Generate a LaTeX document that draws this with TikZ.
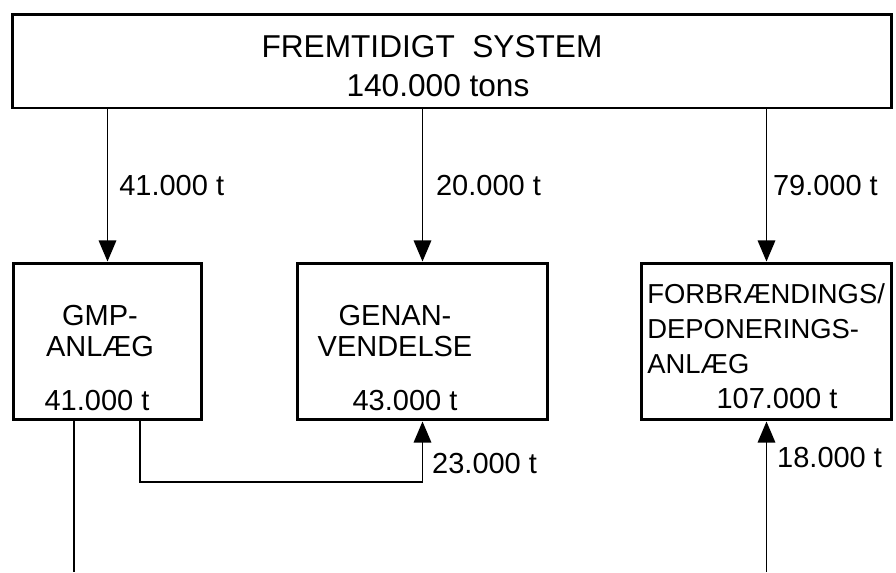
\documentclass[tikz,border=0pt]{standalone}
\usepackage{fontspec}
\setmainfont{Liberation Sans}
\usetikzlibrary{arrows.meta,positioning}

\begin{document}
\begin{tikzpicture}[x=0.02cm,y=-0.02cm,
  box/.style={draw,line width=1.7pt,minimum height=3.14cm,inner sep=0pt},
  flow/.style={line width=0.8pt,-{Triangle[length=12pt,width=10pt]}},
  lab/.style={font=\fontsize{16.5}{18}\selectfont},
  inlab/.style={font=\fontsize{16.5}{18}\selectfont,align=center}]
\useasboundingbox (0,0) rectangle (896,572);
% total
\node[draw,line width=1.7pt,minimum width=17.6cm,minimum height=1.88cm] (sys) at (452,61) {};
\node[font=\fontsize{18}{20}\selectfont] (systitle) at (432,47) {FREMTIDIGT\ \ SYSTEM};
\node[font=\fontsize{18}{20}\selectfont] (systons) at (438,86) {140.000 tons};
% plants
\node[box,minimum width=3.78cm] (gmp) at (107.5,341.5) {};
\node[box,minimum width=5.02cm] (genan) at (422.5,341.5) {};
\node[box,minimum width=5.02cm] (forbr) at (766.5,341.5) {};
\node[inlab] (gmpname) at (100,331) {GMP-\\ANLÆG};
\node[lab] (gmpton) at (97,401) {41.000 t};
\node[inlab] (genanname) at (395,331) {GENAN-\\VENDELSE};
\node[lab] (genanton) at (405,401) {43.000 t};
\node[font=\fontsize{15.6}{19.9}\selectfont,align=left,anchor=north west,inner sep=0pt]
  (forbrname) at (647,283) {FORBRÆNDINGS/\\DEPONERINGS-\\ANLÆG};
\node[lab] (forbrton) at (777,399) {107.000 t};
% flows from the system
\draw[flow] (gmp.north |- sys.south) -- node[midway,right=3pt,lab] {41.000 t} (gmp.north);
\draw[flow] (genan.north |- sys.south) -- node[midway,right=4pt,lab] {20.000 t} (genan.north);
\draw[flow] (forbr.north |- sys.south) -- node[midway,right=0pt,lab] {79.000 t} (forbr.north);
% flows out of the plants
\coordinate (gmpout) at (74,572);
\coordinate (bend) at (140,482);
\coordinate (rest) at (766.5,572);
\draw[line width=0.8pt] (gmp.south -| gmpout) -- (gmpout);
\draw[flow] (gmp.south -| bend) -- (bend) -| (genan.south);
\node[lab,anchor=west] (genanin) at (426,464) {23.000 t};
\draw[flow] (rest) -- (forbr.south);
\node[lab,anchor=west] (forbrin) at (771,458) {18.000 t};
\end{tikzpicture}
\end{document}
